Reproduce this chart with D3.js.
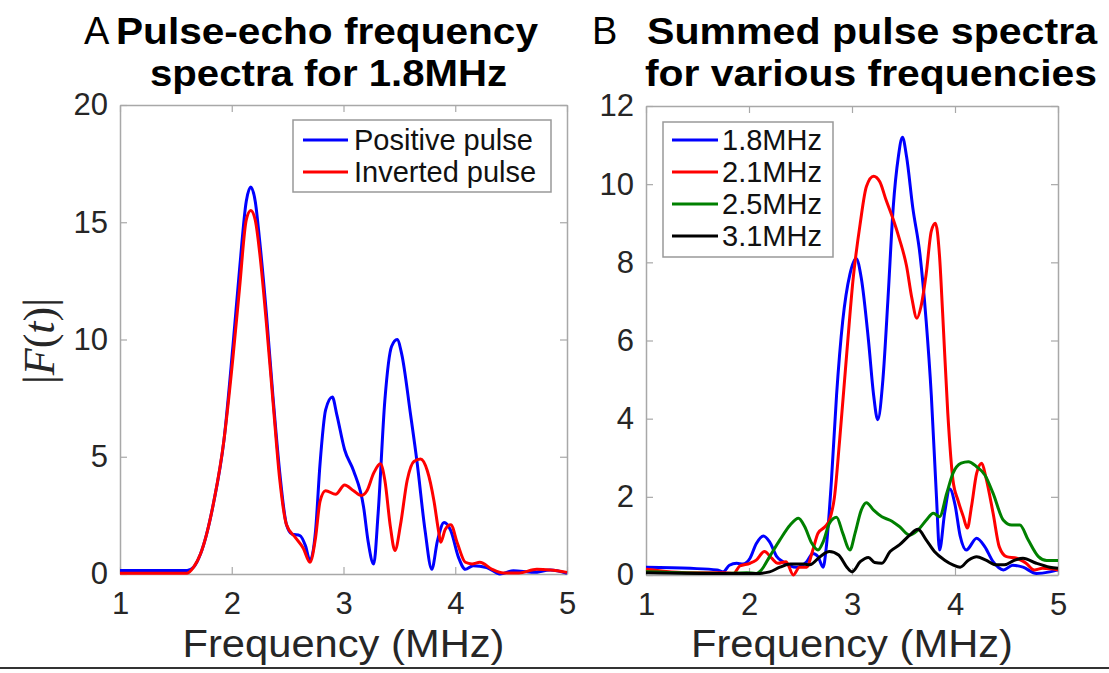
<!DOCTYPE html>
<html>
<head>
<meta charset="utf-8">
<script src="https://cdn.jsdelivr.net/npm/d3@7"></script>
<style>
  body { margin: 0; background: #fff; }
  text { font-family: "Liberation Sans", Arial, Helvetica, sans-serif; }
</style>
</head>
<body>
<div id="chart"></div>
<script>
// panel A: pulse-echo spectra at 1.8MHz
var posFreq = [1.0,1.6,1.66,1.72,1.84,1.93,2.01,2.07,2.13,2.17,2.21,2.25,2.31,2.37,2.43,2.49,2.54,2.61,2.66,2.70,2.75,2.79,2.84,2.90,2.94,3.01,3.09,3.18,3.22,3.27,3.31,3.37,3.43,3.48,3.52,3.60,3.66,3.73,3.79,3.84,3.90,3.96,4.03,4.09,4.16,4.28,4.40,4.52,4.70,4.85,5.0];
var posAmp  = [0.15,0.15,0.3,0.85,3.1,5.7,9.7,13.0,15.9,16.5,15.9,14.2,11.1,7.5,4.3,2.1,1.7,1.64,1.2,0.57,1.85,4.7,7.0,7.55,6.8,5.3,4.4,2.85,1.4,0.43,2.6,7.4,9.7,10.0,9.4,6.8,4.7,1.85,0.2,1.4,2.2,1.85,0.7,0.2,0.35,0.28,0.0,0.14,0.07,0.17,0.03];
var invFreq = [1.0,1.6,1.66,1.72,1.84,1.93,2.01,2.07,2.13,2.17,2.21,2.25,2.31,2.37,2.43,2.49,2.57,2.64,2.70,2.75,2.79,2.84,2.93,3.01,3.09,3.16,3.21,3.27,3.33,3.37,3.42,3.46,3.51,3.57,3.63,3.69,3.75,3.81,3.85,3.87,3.91,3.96,4.02,4.09,4.15,4.22,4.33,4.43,4.57,4.73,4.85,5.0];
var invAmp  = [0.03,0.03,0.3,0.85,3.1,5.7,9.2,12.2,15.1,15.5,15.1,13.7,10.7,7.3,4.0,2.1,1.55,1.1,0.5,1.55,3.1,3.55,3.4,3.8,3.55,3.35,3.55,4.3,4.7,4.0,2.0,1.0,2.1,4.0,4.8,4.9,4.4,3.1,1.85,1.35,1.9,2.1,1.3,0.5,0.43,0.5,0.2,0.04,0.04,0.2,0.17,0.07];

// panel B: summed spectra for each drive frequency
var f18Freq = [1.0,1.43,1.69,1.75,1.81,1.88,1.94,2.01,2.07,2.14,2.20,2.27,2.33,2.46,2.56,2.62,2.67,2.72,2.75,2.80,2.85,2.91,2.98,3.04,3.09,3.16,3.21,3.25,3.30,3.35,3.40,3.45,3.49,3.53,3.59,3.66,3.72,3.77,3.82,3.85,3.90,3.95,4.0,4.05,4.11,4.21,4.29,4.37,4.47,4.56,4.66,4.79,4.92,5.0];
var f18Amp  = [0.2,0.17,0.13,0.08,0.25,0.3,0.28,0.43,0.8,1.0,0.85,0.47,0.34,0.2,0.34,0.55,0.47,0.2,0.7,2.4,4.6,6.5,7.7,8.1,7.6,6.0,4.6,3.97,5.0,7.1,9.4,10.7,11.2,10.7,9.4,8.2,6.5,4.6,2.0,0.64,1.6,2.2,1.8,1.0,0.64,0.94,0.72,0.34,0.13,0.25,0.2,0.04,0.08,0.13];
var f21Freq = [1.0,1.43,1.75,1.85,1.91,2.01,2.07,2.15,2.22,2.28,2.36,2.43,2.49,2.56,2.62,2.67,2.74,2.78,2.83,2.88,2.95,3.01,3.08,3.14,3.21,3.27,3.33,3.40,3.46,3.53,3.58,3.63,3.67,3.72,3.77,3.81,3.85,3.88,3.93,3.98,4.03,4.08,4.12,4.16,4.21,4.26,4.30,4.37,4.43,4.50,4.60,4.69,4.77,4.85,5.0];
var f21Amp  = [0.15,0.06,0.06,0.04,0.23,0.3,0.38,0.6,0.43,0.3,0.34,0.0,0.2,0.2,0.64,1.07,1.24,1.4,2.0,3.45,5.7,7.55,9.0,9.94,10.2,10.06,9.6,9.1,8.6,7.9,7.1,6.57,6.87,7.7,8.8,9.0,8.15,6.7,4.14,2.43,1.9,1.5,1.2,1.75,2.6,2.86,2.5,1.58,0.72,0.47,0.43,0.3,0.13,0.17,0.13];
var f25Freq = [1.0,1.75,1.98,2.07,2.12,2.20,2.30,2.40,2.48,2.54,2.61,2.67,2.72,2.78,2.85,2.91,2.98,3.03,3.09,3.14,3.21,3.29,3.37,3.46,3.56,3.64,3.72,3.79,3.85,3.92,3.98,4.06,4.13,4.21,4.29,4.37,4.47,4.55,4.63,4.71,4.81,4.89,5.0];
var f25Amp  = [0.08,0.04,0.06,0.04,0.13,0.47,0.9,1.28,1.45,1.24,0.81,0.64,0.85,1.32,1.48,1.07,0.64,1.07,1.66,1.85,1.66,1.49,1.4,1.24,1.02,1.15,1.4,1.58,1.49,2.09,2.6,2.86,2.9,2.77,2.56,2.09,1.4,1.28,1.28,0.9,0.47,0.37,0.37];
var f31Freq = [1.0,1.75,2.07,2.20,2.30,2.40,2.53,2.59,2.69,2.78,2.87,2.95,3.0,3.08,3.16,3.22,3.29,3.37,3.46,3.56,3.64,3.72,3.80,3.90,3.98,4.05,4.13,4.21,4.30,4.40,4.48,4.58,4.66,4.79,4.92,5.0];
var f31Amp  = [0.06,0.04,0.04,0.08,0.2,0.28,0.28,0.26,0.47,0.6,0.51,0.2,0.08,0.34,0.45,0.32,0.3,0.6,0.77,1.02,1.17,0.9,0.6,0.38,0.26,0.2,0.38,0.47,0.38,0.26,0.26,0.38,0.43,0.3,0.2,0.17];

var xTicks = [1, 2, 3, 4, 5];
var yTicksA = [0, 5, 10, 15, 20];
var yTicksB = [0, 2, 4, 6, 8, 10, 12];

var width = 1109, height = 673;

var svg = d3.select("#chart").append("svg")
  .attr("width", width)
  .attr("height", height);

function zip(xs, ys) {
  return xs.map(function(x, i) { return { f: x, v: ys[i] }; });
}

function drawPanel(opt) {
  var x = d3.scaleLinear().domain([1, 5]).range([opt.left, opt.right]);
  var y = d3.scaleLinear().domain([0, opt.ymax]).range([opt.bottom, opt.top]);
  var fmt = d3.format("d");

  // mirrored axes with inward ticks, like matlab's box on
  var axes = [
    { ax: d3.axisBottom(x).tickValues(xTicks).tickFormat(fmt).tickSize(-7).tickPadding(18), pos: "translate(0," + opt.bottom + ")" },
    { ax: d3.axisTop(x).tickValues(xTicks).tickSize(-7).tickFormat(""), pos: "translate(0," + opt.top + ")" },
    { ax: d3.axisLeft(y).tickValues(opt.yTicks).tickFormat(fmt).tickSize(-7).tickPadding(12), pos: "translate(" + opt.left + ",0)" },
    { ax: d3.axisRight(y).tickValues(opt.yTicks).tickSize(-7).tickFormat(""), pos: "translate(" + opt.right + ",0)" }
  ];
  axes.forEach(function(a) {
    var g = svg.append("g").attr("transform", a.pos).call(a.ax.tickSizeOuter(0));
    g.select(".domain").attr("stroke", "#a8a8a8").attr("stroke-width", 1.5);
    g.selectAll(".tick line").attr("stroke", "#a8a8a8").attr("stroke-width", 1.2);
    g.selectAll(".tick text")
      .attr("fill", "#262626")
      .style("font-size", "31px")
      .style("font-family", "Liberation Sans, Arial, sans-serif");
  });

  var line = d3.line()
    .x(function(d) { return x(d.f); })
    .y(function(d) { return y(d.v); })
    .curve(d3.curveMonotoneX);

  opt.series.forEach(function(s) {
    svg.append("path")
      .datum(zip(s.f, s.v))
      .attr("fill", "none")
      .attr("stroke", s.color)
      .attr("stroke-width", 3)
      .attr("stroke-linejoin", "round")
      .attr("d", line);
  });

  // legend
  var lg = opt.legend;
  svg.append("rect")
    .attr("x", lg.x).attr("y", lg.y)
    .attr("width", lg.w).attr("height", lg.h)
    .attr("fill", "#fff")
    .attr("stroke", "#999")
    .attr("stroke-width", 1.5);
  opt.series.forEach(function(s, i) {
    var yy = lg.y + lg.first + i * lg.step;
    svg.append("line")
      .attr("x1", lg.x + lg.lineX0).attr("x2", lg.x + lg.lineX1)
      .attr("y1", yy).attr("y2", yy)
      .attr("stroke", s.color).attr("stroke-width", 3);
    svg.append("text")
      .attr("x", lg.x + lg.textX)
      .attr("y", yy + 10)
      .attr("fill", "#111")
      .style("font-size", "29px")
      .text(s.name);
  });

  // x label
  svg.append("text")
    .attr("x", (opt.left + opt.right) / 2)
    .attr("y", 657)
    .attr("text-anchor", "middle")
    .attr("fill", "#262626")
    .attr("textLength", 322)
    .attr("lengthAdjust", "spacingAndGlyphs")
    .style("font-size", "38px")
    .text("Frequency (MHz)");

  // panel letter + title
  svg.append("text")
    .attr("x", opt.letterX).attr("y", 44)
    .style("font-size", "38px")
    .attr("fill", "#000")
    .text(opt.letter);
  opt.title.forEach(function(t, i) {
    svg.append("text")
      .attr("x", t.x).attr("y", 44 + i * 42)
      .attr("textLength", t.len)
      .attr("lengthAdjust", "spacingAndGlyphs")
      .style("font-size", "37px")
      .style("font-weight", "bold")
      .attr("fill", "#000")
      .text(t.text);
  });
}

drawPanel({
  left: 120, right: 567, top: 105, bottom: 574, ymax: 20, yTicks: yTicksA,
  series: [
    { name: "Positive pulse", f: posFreq, v: posAmp, color: "#0000ff" },
    { name: "Inverted pulse", f: invFreq, v: invAmp, color: "#ff0000" }
  ],
  legend: { x: 293, y: 120, w: 258, h: 72, first: 20, step: 32, lineX0: 10, lineX1: 55, textX: 61 },
  letter: "A", letterX: 84,
  title: [
    { text: "Pulse-echo frequency", x: 116, len: 422 },
    { text: "spectra for 1.8MHz", x: 150, len: 357 }
  ]
});

drawPanel({
  left: 646, right: 1058, top: 106, bottom: 575, ymax: 12, yTicks: yTicksB,
  series: [
    { name: "1.8MHz", f: f18Freq, v: f18Amp, color: "#0000ff" },
    { name: "2.1MHz", f: f21Freq, v: f21Amp, color: "#ff0000" },
    { name: "2.5MHz", f: f25Freq, v: f25Amp, color: "#008000" },
    { name: "3.1MHz", f: f31Freq, v: f31Amp, color: "#000000" }
  ],
  legend: { x: 663, y: 122, w: 170, h: 135, first: 18, step: 32, lineX0: 9, lineX1: 55, textX: 59 },
  letter: "B", letterX: 592,
  title: [
    { text: "Summed pulse spectra", x: 647, len: 450 },
    { text: "for various frequencies", x: 645, len: 452 }
  ]
});

// y label |F(t)| in latex style
var yl = svg.append("text")
  .attr("transform", "translate(54,341) rotate(-90)")
  .attr("text-anchor", "middle")
  .attr("fill", "#262626")
  .style("font-family", "Liberation Serif, DejaVu Serif, serif")
  .style("font-size", "44px");
yl.append("tspan").text("|");
yl.append("tspan").style("font-style", "italic").text("F");
yl.append("tspan").text("(");
yl.append("tspan").style("font-style", "italic").text("t");
yl.append("tspan").text(")");
yl.append("tspan").text("|");

// bottom rule
svg.append("line")
  .attr("x1", 0).attr("x2", width)
  .attr("y1", 668).attr("y2", 668)
  .attr("stroke", "#333")
  .attr("stroke-width", 2);
</script>
</body>
</html>
